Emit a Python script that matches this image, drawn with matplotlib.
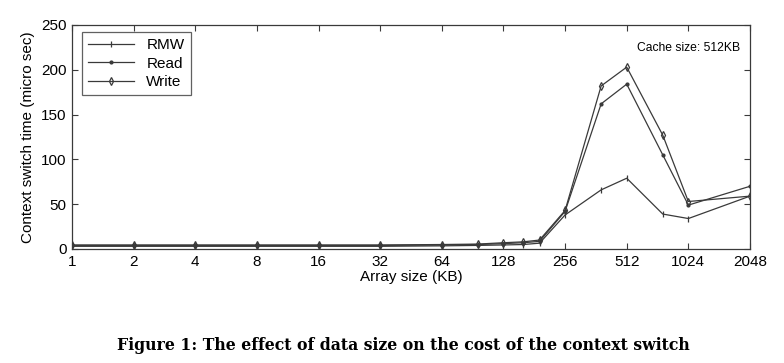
import numpy as np
import matplotlib
matplotlib.use("Agg")
import matplotlib.pyplot as plt

# tailles des tableaux (KB)
sizes = [1, 2, 4, 8, 16, 32, 64, 96, 128, 160, 192, 256, 384, 512, 768, 1024, 2048]

# temps de changement de contexte (micro sec)
rmw = [3, 3, 3, 3, 3, 3, 3.5, 4, 4.5, 5, 6.5, 38, 66, 79, 39, 34, 59]
read = [4, 4, 4, 4, 4, 4, 4.5, 5, 6, 7, 8.5, 42, 162, 184, 105, 49, 70]
write = [4.5, 4.5, 4.5, 4.5, 4.5, 4.5, 5, 5.5, 7, 8, 10, 43, 182, 203, 127, 53, 59]

xticks = [1, 2, 4, 8, 16, 32, 64, 128, 256, 512, 1024, 2048]

plt.rcParams['font.family'] = ['Liberation Sans', 'DejaVu Sans']

fig = plt.figure(figsize=(7.84, 3.63), dpi=100)
ax = fig.add_axes([72/784, (363-249)/363, 678/784, 224/363])

c = '#3a3a3a'
ax.plot(sizes, rmw, color=c, lw=0.9, marker='|', ms=5, mew=0.9, label='RMW')
ax.plot(sizes, read, color=c, lw=0.9, marker='.', ms=4, label='Read')
ax.plot(sizes, write, color=c, lw=0.9, marker='d', ms=4, mfc='none', mew=0.9, label='Write')

ax.set_xscale('log', base=2)
ax.set_xlim(1, 2048)
ax.set_ylim(0, 250)
ax.set_xticks(xticks)
ax.set_xticklabels([str(v) for v in xticks])
ax.minorticks_off()
ax.set_yticks([0, 50, 100, 150, 200, 250])
ax.tick_params(direction='in', top=True, right=True, labelsize=11, length=4, color=c, pad=4)
for s in ax.spines.values():
    s.set_color(c)
    s.set_linewidth(0.9)

ax.set_xlabel('Array size (KB)', fontsize=11, labelpad=1)
ax.set_ylabel('Context switch time (micro sec)', fontsize=11, labelpad=4)

ax.text(0.91, 0.897, 'Cache size: 512KB', transform=ax.transAxes, fontsize=8.7, ha='center', va='center')

leg = ax.legend(loc='upper left', fontsize=11, frameon=True, fancybox=False,
                edgecolor=c, handlelength=3.0, borderpad=0.4, labelspacing=0.3,
                borderaxespad=0, bbox_to_anchor=(0.015, 0.969))
leg.get_frame().set_linewidth(0.9)

# légende de la figure
fig.text(0.514, 0.048, 'Figure 1: The effect of data size on the cost of the context switch',
         ha='center', va='center', fontsize=11.3, fontweight='bold', family='DejaVu Serif')

fig.savefig('out.png', dpi=100)
